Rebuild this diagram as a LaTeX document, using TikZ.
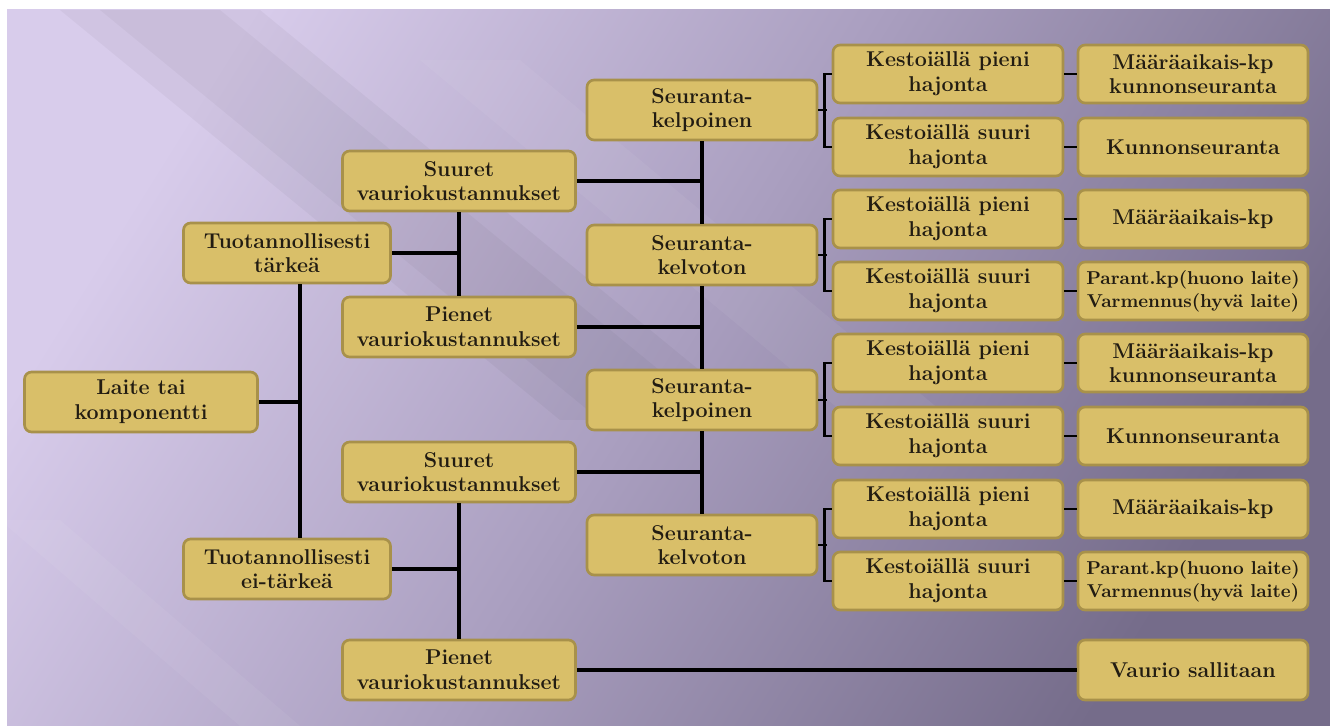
\documentclass[tikz,border=0pt]{standalone}
\usepackage{tikz}

\definecolor{boxfill}{HTML}{D9BF69}
\definecolor{boxline}{HTML}{A8914A}
\definecolor{bgA}{HTML}{D8CCEB}
\definecolor{bgB}{HTML}{A99EBF}
\definecolor{bgC}{HTML}{756C8A}
\definecolor{ink}{HTML}{221C12}
\pgfdeclarehorizontalshading{bgshade}{100bp}{color(0bp)=(bgA); color(25bp)=(bgA); color(50bp)=(bgB); color(75bp)=(bgC); color(100bp)=(bgC)}

\begin{document}
\begin{tikzpicture}[x=0.02cm,y=-0.02cm]
      \tikzstyle{box}=[rounded corners=4pt,draw=boxline,fill=boxfill,line width=1.5pt,minimum height=1.2cm,align=center,text=ink,font=\fontsize{12.2}{14}\selectfont\bfseries,inner sep=2pt];
      \tikzstyle{wide}=[box,minimum width=4.66cm];
      \tikzstyle{mid}=[box,minimum width=4.14cm];
      \tikzstyle{std}=[box,minimum width=4.6cm];
      \tikzstyle{leaf}=[box,minimum width=4.6cm,minimum height=1.16cm];
      \tikzstyle{small}=[leaf,font=\fontsize{10.6}{13}\selectfont\bfseries];
      \tikzstyle{link}=[draw=black,line width=2.4pt];
      \tikzstyle{brace}=[draw=black,line width=1.7pt];

      % background
      \useasboundingbox (0,0) rectangle (1330,726);
      \fill[white] (0,0) rectangle (1330,726);
      \shade[shading=bgshade,shading angle=-32] (7,10) rectangle (1330,726);
      \begin{scope}
        \clip (7,10) rectangle (1330,726);
        \fill[black,opacity=0.035] (60,10) -- (260,10) -- (760,420) -- (560,420) -- cycle;
        \fill[black,opacity=0.03] (100,10) -- (220,10) -- (720,420) -- (600,420) -- cycle;
        \fill[white,opacity=0.05] (420,60) -- (520,60) -- (1000,460) -- (900,460) -- cycle;
        \fill[white,opacity=0.05] (0,520) -- (60,520) -- (300,726) -- (240,726) -- cycle;
      \end{scope}

      \node[wide](laite) at (141,402) {Laite tai\\komponentti};
      \node[mid](tt) at (287,253) {Tuotannollisesti\\tärkeä};
      \node[mid](et) at (287,569) {Tuotannollisesti\\ei-tärkeä};

      \node[wide](sv1) at (459,181) {Suuret\\vauriokustannukset};
      \node[wide](pv1) at (459,327) {Pienet\\vauriokustannukset};
      \node[wide](sv2) at (459,472) {Suuret\\vauriokustannukset};
      \node[wide](pv2) at (459,670) {Pienet\\vauriokustannukset};

      \node[std](kp1) at (702,110) {Seuranta-\\kelpoinen};
      \node[std](kv1) at (702,255) {Seuranta-\\kelvoton};
      \node[std](kp2) at (702,400) {Seuranta-\\kelpoinen};
      \node[std](kv2) at (702,545) {Seuranta-\\kelvoton};

      \node[leaf](ph1) at (948,74) {Kestoiällä pieni\\hajonta};
      \node[leaf](sh1) at (948,147) {Kestoiällä suuri\\hajonta};
      \node[leaf](ph2) at (948,219) {Kestoiällä pieni\\hajonta};
      \node[leaf](sh2) at (948,291) {Kestoiällä suuri\\hajonta};
      \node[leaf](ph3) at (948,363) {Kestoiällä pieni\\hajonta};
      \node[leaf](sh3) at (948,436) {Kestoiällä suuri\\hajonta};
      \node[leaf](ph4) at (948,509) {Kestoiällä pieni\\hajonta};
      \node[leaf](sh4) at (948,581) {Kestoiällä suuri\\hajonta};

      \node[leaf](mk1) at (1193,74) {Määräaikais-kp\\kunnonseuranta};
      \node[leaf](ks1) at (1193,147) {Kunnonseuranta};
      \node[leaf](ma1) at (1193,219) {Määräaikais-kp};
      \node[small](pa1) at (1193,291) {Parant.kp(huono laite)\\Varmennus(hyvä laite)};
      \node[leaf](mk2) at (1193,363) {Määräaikais-kp\\kunnonseuranta};
      \node[leaf](ks2) at (1193,436) {Kunnonseuranta};
      \node[leaf](ma2) at (1193,509) {Määräaikais-kp};
      \node[small](pa2) at (1193,581) {Parant.kp(huono laite)\\Varmennus(hyvä laite)};
      \node[box,minimum width=4.6cm](vs) at (1193,670) {Vaurio sallitaan};

      \coordinate (j1) at (300,402);
      \coordinate (j2) at (459,253);
      \coordinate (j3) at (459,569);

      \draw[link] (laite.east) -- (j1);
      \draw[link] (tt.south -| j1) -- (et.north -| j1);
      \draw[link] (tt.east) -- (j2);
      \draw[link] (sv1.south) -- (pv1.north);
      \draw[link] (et.east) -- (j3);
      \draw[link] (sv2.south) -- (pv2.north);

      \draw[link] (kp1.south) -- (kv1.north);
      \draw[link] (kv1.south) -- (kp2.north);
      \draw[link] (kp2.south) -- (kv2.north);
      \draw[link] (sv1.east) -- (sv1.east -| kp1.south);
      \draw[link] (pv1.east) -- (pv1.east -| kp1.south);
      \draw[link] (sv2.east) -- (sv2.east -| kp1.south);
      \draw[link] (pv2.east) -- (vs.west);

      \draw[brace] (kp1.east) -- ++(9,0);
      \draw[brace] (kv1.east) -- ++(9,0);
      \draw[brace] (kp2.east) -- ++(9,0);
      \draw[brace] (kv2.east) -- ++(9,0);
      \draw[brace] (ph1.west) -- ++(-7,0) |- (sh1.west);
      \draw[brace] (ph2.west) -- ++(-7,0) |- (sh2.west);
      \draw[brace] (ph3.west) -- ++(-7,0) |- (sh3.west);
      \draw[brace] (ph4.west) -- ++(-7,0) |- (sh4.west);

      \draw[brace] (ph1.east) -- (mk1.west);
      \draw[brace] (sh1.east) -- (ks1.west);
      \draw[brace] (ph2.east) -- (ma1.west);
      \draw[brace] (sh2.east) -- (pa1.west);
      \draw[brace] (ph3.east) -- (mk2.west);
      \draw[brace] (sh3.east) -- (ks2.west);
      \draw[brace] (ph4.east) -- (ma2.west);
      \draw[brace] (sh4.east) -- (pa2.west);

    \end{tikzpicture}
\end{document}
